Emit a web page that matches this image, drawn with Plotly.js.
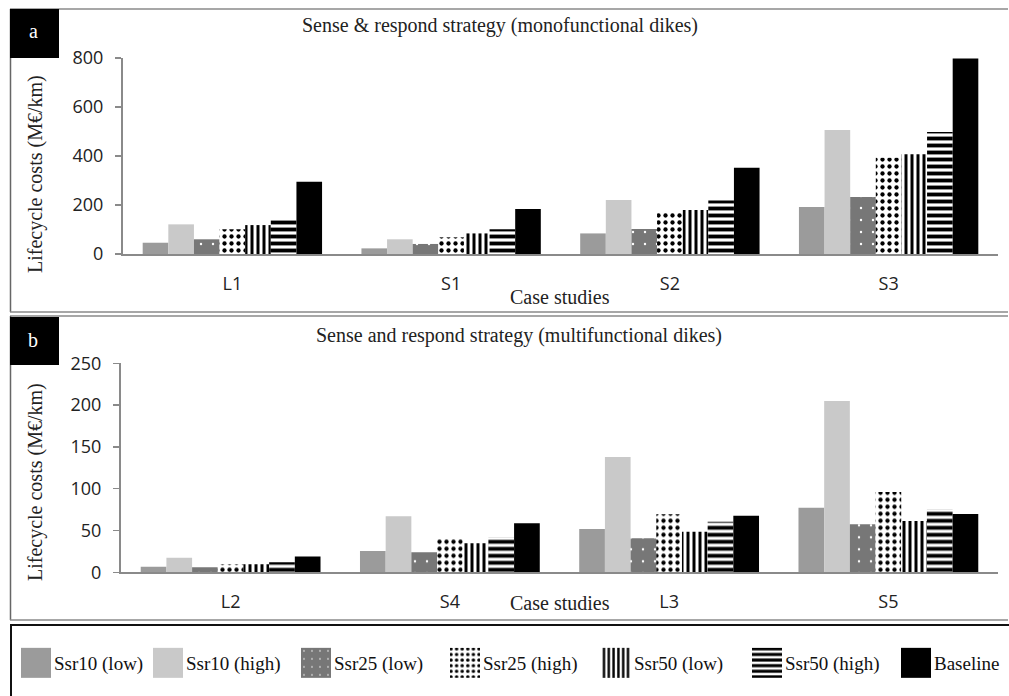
<!DOCTYPE html>
<html>
<head>
<meta charset="utf-8">
<script src="https://cdn.plot.ly/plotly-3.0.1.min.js"></script>
<style>
  html, body { margin: 0; padding: 0; background: #fff; }
  #chart { width: 1009px; height: 696px; }
</style>
</head>
<body>
<div id="chart"></div>
<script>
// ---------- DATA ----------
const seriesNames = ["Ssr10 (low)", "Ssr10 (high)", "Ssr25 (low)", "Ssr25 (high)", "Ssr50 (low)", "Ssr50 (high)", "Baseline"];

const casesA = ["L1", "S1", "S2", "S3"];
const ssr10LowA  = [46, 23, 84, 192];
const ssr10HighA = [121, 60, 220, 506];
const ssr25LowA  = [60, 41, 102, 233];
const ssr25HighA = [101, 68, 173, 393];
const ssr50LowA  = [118, 84, 180, 407];
const ssr50HighA = [145, 101, 218, 498];
const baselineA  = [295, 184, 352, 798];

const casesB = ["L2", "S4", "L3", "S5"];
const ssr10LowB  = [6.7, 25.5, 51.8, 77.3];
const ssr10HighB = [17.5, 67, 138, 205];
const ssr25LowB  = [6, 24, 40.6, 57.4];
const ssr25HighB = [9.5, 40, 69.4, 96];
const ssr50LowB  = [9.5, 34.7, 48.6, 61.4];
const ssr50HighB = [12, 42, 60.6, 75.3];
const baselineB  = [19, 58.6, 67.7, 69.7];

const titleA = "Sense &amp; respond strategy (monofunctional dikes)";
const titleB = "Sense and respond strategy (multifunctional dikes)";
const yTitle = "Lifecycle costs (M€/km)";
const xTitle = "Case studies";

// ---------- STYLES ----------
const W = 1009, H = 696;
const px = x => x / W;
const py = y => 1 - y / H;

const styles = [
  {color: "#9b9b9b", pattern: {shape: ""}},
  {color: "#c9c9c9", pattern: {shape: ""}},
  {color: "#777777", pattern: {shape: ".", fgcolor: "#ffffff", bgcolor: "#777777", size: 12, solidity: 0.03, fillmode: "replace"}},
  {color: "#ffffff", pattern: {shape: ".", fgcolor: "#000000", bgcolor: "#ffffff", size: 7, solidity: 0.3, fillmode: "replace"}},
  {color: "#ffffff", pattern: {shape: "|", fgcolor: "#000000", bgcolor: "#ffffff", size: 6, solidity: 0.5, fillmode: "replace"}},
  {color: "#ffffff", pattern: {shape: "-", fgcolor: "#000000", bgcolor: "#ffffff", size: 7, solidity: 0.55, fillmode: "replace"}},
  {color: "#000000", pattern: {shape: ""}}
];
const legendWidths = [87, 103, 104, 106, 106, 104, 10];

const dataA = [ssr10LowA, ssr10HighA, ssr25LowA, ssr25HighA, ssr50LowA, ssr50HighA, baselineA];
const dataB = [ssr10LowB, ssr10HighB, ssr25LowB, ssr25HighB, ssr50LowB, ssr50HighB, baselineB];

const traces = [];
dataA.forEach((vals, i) => {
  traces.push({
    type: "bar", x: casesA, y: vals, name: seriesNames[i],
    xaxis: "x", yaxis: "y", legendgroup: "g" + i, showlegend: true,
    legendwidth: legendWidths[i],
    marker: {color: styles[i].color, pattern: styles[i].pattern, line: {width: 0}},
    hoverinfo: "y"
  });
});
dataB.forEach((vals, i) => {
  traces.push({
    type: "bar", x: casesB, y: vals, name: seriesNames[i],
    xaxis: "x2", yaxis: "y2", legendgroup: "g" + i, showlegend: false,
    marker: {color: styles[i].color, pattern: styles[i].pattern, line: {width: 0}},
    hoverinfo: "y"
  });
});

const serif = "Liberation Serif, Times New Roman, serif";
const sans = "Open Sans, Liberation Sans, sans-serif";

const axisCommon = {
  showline: true, linecolor: "#8a8a8a", linewidth: 2,
  showgrid: false, zeroline: false, fixedrange: true
};

function ann(text, x, y, extra) {
  return Object.assign({
    text: text, xref: "paper", yref: "paper", x: px(x), y: py(y),
    xanchor: "center", yanchor: "middle", showarrow: false,
    font: {family: serif, size: 20, color: "#222"}
  }, extra || {});
}

const layout = {
  width: W, height: H,
  margin: {l: 0, r: 0, t: 0, b: 0},
  paper_bgcolor: "#ffffff", plot_bgcolor: "rgba(0,0,0,0)",
  barmode: "group", bargap: 0.18, bargroupgap: 0,
  showlegend: true,
  legend: {
    orientation: "h", x: px(14), xanchor: "left", y: py(663), yanchor: "middle",
    font: {family: serif, size: 19, color: "#111"},
    itemwidth: 30, entrywidthmode: "pixels", traceorder: "normal",
    bgcolor: "rgba(0,0,0,0)", itemclick: false, itemdoubleclick: false
  },
  xaxis: Object.assign({}, axisCommon, {
    domain: [px(123), px(998)], anchor: "y", ticks: "",
    tickfont: {family: sans, size: 18, color: "#222"}, ticklabelstandoff: 12
  }),
  yaxis: Object.assign({}, axisCommon, {
    domain: [py(254), py(58)], anchor: "x", range: [0, 800], dtick: 200,
    ticks: "outside", ticklen: 6, tickcolor: "#8a8a8a", tickwidth: 1.5,
    tickfont: {family: sans, size: 18, color: "#222"}, ticklabelstandoff: 8
  }),
  xaxis2: Object.assign({}, axisCommon, {
    domain: [px(121), px(998)], anchor: "y2", ticks: "",
    tickfont: {family: sans, size: 18, color: "#222"}, ticklabelstandoff: 12
  }),
  yaxis2: Object.assign({}, axisCommon, {
    domain: [py(572.3), py(363.3)], anchor: "x2", range: [0, 250], dtick: 50,
    ticks: "outside", ticklen: 6, tickcolor: "#8a8a8a", tickwidth: 1.5,
    tickfont: {family: sans, size: 18, color: "#222"}, ticklabelstandoff: 8
  }),
  shapes: [
    // panel a frame
    {type: "line", xref: "paper", yref: "paper", x0: px(10), x1: px(1008), y0: py(9), y1: py(9), line: {color: "#8a8a8a", width: 1.5}},
    {type: "line", xref: "paper", yref: "paper", x0: px(10.5), x1: px(10.5), y0: py(9), y1: py(312), line: {color: "#666", width: 1.5}},
    {type: "line", xref: "paper", yref: "paper", x0: px(10), x1: px(1008), y0: py(312), y1: py(312), line: {color: "#8a8a8a", width: 1.5}},
    // panel b frame
    {type: "line", xref: "paper", yref: "paper", x0: px(10), x1: px(1008), y0: py(316), y1: py(316), line: {color: "#8a8a8a", width: 1.5}},
    {type: "line", xref: "paper", yref: "paper", x0: px(10.5), x1: px(10.5), y0: py(316), y1: py(620), line: {color: "#666", width: 1.5}},
    {type: "line", xref: "paper", yref: "paper", x0: px(10), x1: px(1008), y0: py(620), y1: py(620), line: {color: "#8a8a8a", width: 1.5}},
    // legend frame
    {type: "line", xref: "paper", yref: "paper", x0: px(10), x1: px(1009), y0: py(625), y1: py(625), line: {color: "#111", width: 2}},
    {type: "line", xref: "paper", yref: "paper", x0: px(11), x1: px(11), y0: py(625), y1: py(696), line: {color: "#111", width: 2}},
    // label boxes
    {type: "rect", xref: "paper", yref: "paper", x0: px(10), x1: px(59), y0: py(58), y1: py(9), fillcolor: "#000", line: {width: 0}},
    {type: "rect", xref: "paper", yref: "paper", x0: px(10), x1: px(59), y0: py(365), y1: py(317), fillcolor: "#000", line: {width: 0}}
  ],
  annotations: [
    ann("a", 33, 31, {font: {family: serif, size: 20, color: "#fff"}}),
    ann("b", 33, 340, {font: {family: serif, size: 20, color: "#fff"}}),
    ann(titleA, 500, 26),
    ann(titleB, 519, 335),
    ann(xTitle, 560, 297),
    ann(xTitle, 560, 603),
    ann(yTitle, 35, 174, {textangle: -90}),
    ann(yTitle, 35, 482, {textangle: -90})
  ]
};

Plotly.newPlot("chart", traces, layout, {displayModeBar: false, staticPlot: true}).then(gd => {
  // larger legend swatches (~30px squares) placed just left of the text
  gd.querySelectorAll(".legend .legendpoints path").forEach(p => {
    p.setAttribute("d", "M15,15H-15V-15H15Z");
    p.setAttribute("transform", "translate(22,0)");
  });
  // let the last legend label ("Baseline") draw beyond the legend's clip box
  gd.querySelectorAll(".legend [clip-path]").forEach(el => el.removeAttribute("clip-path"));
});
</script>
</body>
</html>
